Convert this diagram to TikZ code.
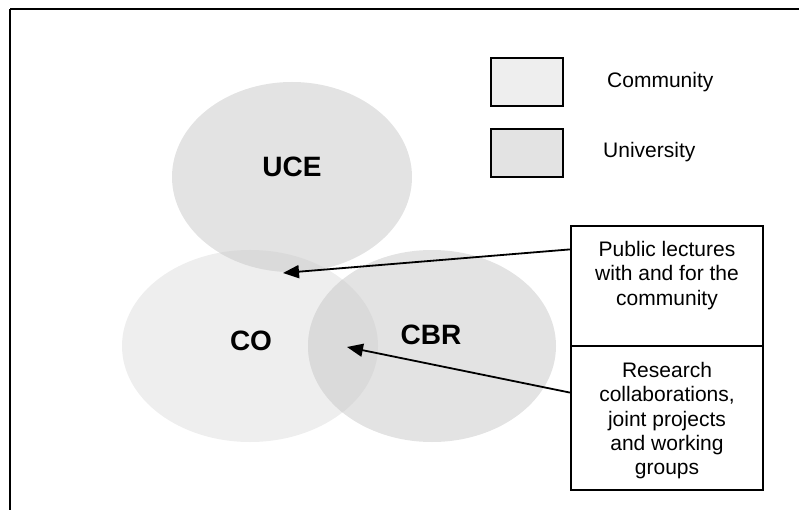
\documentclass[tikz,border=0pt]{standalone}
\usepackage{fontspec}
\setmainfont{Liberation Sans}
\usetikzlibrary{arrows.meta,calc}

\definecolor{commfill}{HTML}{EEEEEE}
\definecolor{unifill}{HTML}{E3E3E3}
\definecolor{overlapfill}{HTML}{DADADA}

\tikzset{
  framerule/.style={line width=2pt, black},
  legendbox/.style={draw=black, line width=2pt, minimum width=72pt, minimum height=48pt, inner sep=0pt},
  legendtext/.style={anchor=west, inner sep=0pt, font=\fontsize{21}{24}\selectfont},
  setlabel/.style={inner sep=0pt, font=\fontsize{28}{32}\selectfont\bfseries},
  notebox/.style={draw=black, line width=2pt, minimum width=192pt, inner sep=0pt},
  notetext/.style={anchor=north, inner sep=0pt, align=center, font=\fontsize{21}{24.3}\selectfont},
  pointer/.style={line width=1.8pt, -{Triangle[length=16pt,width=13pt]}},
}

\begin{document}
\begin{tikzpicture}[x=1pt,y=-1pt]
  \useasboundingbox (0,0) rectangle (799,510);

  % outer frame (top and left rules)
  \draw[framerule] (10,9) -- (805,9);
  \draw[framerule] (10,9) -- (10,515);

  % the three sets
  \fill[commfill] (250,346) ellipse [x radius=128, y radius=96];
  \fill[unifill]  (292,177) ellipse [x radius=120, y radius=95];
  \fill[unifill]  (432,346) ellipse [x radius=124, y radius=96];
  % overlaps with CO
  \begin{scope}
    \clip (250,346) ellipse [x radius=128, y radius=96];
    \fill[overlapfill] (292,177) ellipse [x radius=120, y radius=95];
    \fill[overlapfill] (432,346) ellipse [x radius=124, y radius=96];
  \end{scope}

  \node[setlabel] (uce) at (292,167) {UCE};
  \node[setlabel] (co)  at (251,341) {CO};
  \node[setlabel] (cbr) at (431,335) {CBR};

  % legend
  \node[legendbox, fill=commfill] (legcomm) at (527,82) {};
  \node[legendbox, fill=unifill]  (leguni)  at (527,153) {};
  \node[legendtext] (legcommtxt) at (607,82)  {Community};
  \node[legendtext] (legunitxt)  at (603,152) {University};

  % annotation boxes
  \node[notebox, minimum height=120pt] (lect) at (667,286) {};
  \node[notebox, minimum height=144pt] (rsch) at (667,418) {};
  \node[notetext] (lecttxt) at (667,241) {Public lectures\\with and for the\\community};
  \node[notetext] (rschtxt) at (667,362) {Research\\collaborations,\\joint projects\\and working\\groups};

  % pointers into the overlaps
  \coordinate (lectend) at (283,273);
  \coordinate (rschend) at (347,347);
  \draw[pointer] ($(lect.north west)!0.2!(lect.south west)$) -- (lectend);
  \draw[pointer] ($(rsch.north west)!0.326!(rsch.south west)$) -- (rschend);
\end{tikzpicture}
\end{document}
